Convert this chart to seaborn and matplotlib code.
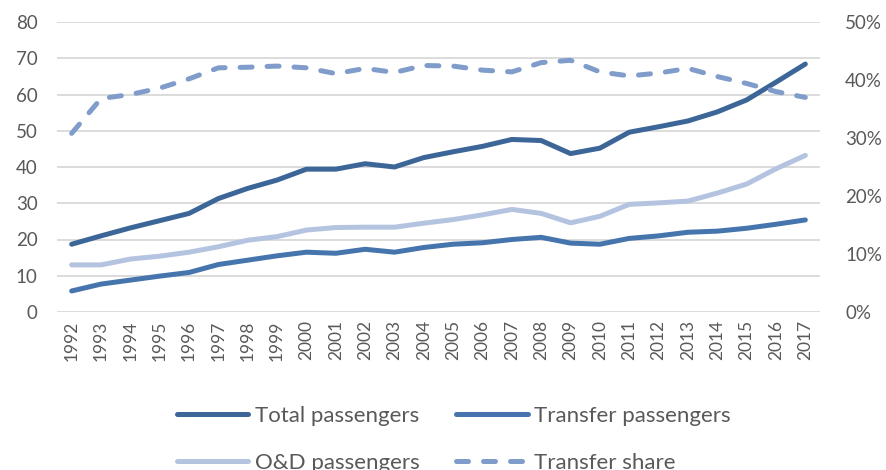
import matplotlib
matplotlib.use("Agg")
import matplotlib.pyplot as plt
import pandas as pd
import seaborn as sns
from matplotlib.ticker import FuncFormatter

years = list(range(1992, 2018))
total = [18.7, 21.0, 23.2, 25.2, 27.2, 31.3, 34.1, 36.4, 39.4, 39.4, 40.9, 40.0,
         42.6, 44.2, 45.7, 47.6, 47.3, 43.7, 45.2, 49.6, 51.1, 52.7, 55.2, 58.5,
         63.4, 68.4]
transfer = [5.8, 7.7, 8.8, 9.9, 10.9, 13.1, 14.3, 15.5, 16.5, 16.2, 17.3, 16.5,
            17.8, 18.7, 19.1, 20.0, 20.6, 19.0, 18.7, 20.3, 21.0, 22.0, 22.3, 23.1,
            24.2, 25.4]
od = [13.0, 13.0, 14.6, 15.4, 16.5, 18.0, 19.8, 20.8, 22.6, 23.3, 23.4, 23.4,
      24.5, 25.5, 26.8, 28.3, 27.2, 24.6, 26.4, 29.7, 30.1, 30.6, 32.8, 35.3,
      39.5, 43.2]
share = [30.8, 36.8, 37.5, 38.6, 40.2, 42.1, 42.2, 42.4, 42.1, 41.1, 42.0, 41.3,
         42.5, 42.4, 41.7, 41.4, 43.0, 43.4, 41.4, 40.7, 41.2, 42.0, 40.6, 39.4,
         38.0, 37.0]

df = pd.DataFrame({"year": [str(y) for y in years], "total": total,
                   "transfer": transfer, "od": od, "share": share})

sns.set_theme(style="white")
plt.rcParams["font.family"] = ["Lato", "DejaVu Sans"]

c_total = "#3D6698"
c_transfer = "#4675AE"
c_od = "#B4C4E0"
c_share = "#7F9CCA"
grey = "#595959"

fig = plt.figure(figsize=(8.86, 4.70), dpi=100)
ax = fig.add_axes([57 / 886, 1 - 312 / 470, (820 - 57) / 886, (312 - 22) / 470])
ax2 = ax.twinx()

lw = 3.6
sns.lineplot(data=df, x="year", y="total", ax=ax, color=c_total, lw=lw,
             solid_capstyle="round", label="Total passengers", legend=False, sort=False)
sns.lineplot(data=df, x="year", y="transfer", ax=ax, color=c_transfer, lw=lw,
             solid_capstyle="round", label="Transfer passengers", legend=False, sort=False)
sns.lineplot(data=df, x="year", y="od", ax=ax, color=c_od, lw=lw,
             solid_capstyle="round", label="O&D passengers", legend=False, sort=False)
sns.lineplot(data=df, x="year", y="share", ax=ax2, color=c_share, lw=lw,
             dashes=False, label="Transfer share", legend=False, sort=False)
ax2.lines[0].set_dashes([2.4, 3.0])
ax2.lines[0].set_dash_capstyle("round")

ax.set_ylim(0, 80)
ax.set_yticks(range(0, 81, 10))
ax2.set_ylim(0, 50)
ax2.set_yticks(range(0, 51, 10))
ax2.yaxis.set_major_formatter(FuncFormatter(lambda v, p: f"{v:.0f}%"))
ax.set_xlim(-0.5, len(years) - 0.5)

ax.grid(axis="y", color="#D9D9D9", lw=1.3)
ax.set_axisbelow(True)
for a in (ax, ax2):
    for s in a.spines.values():
        s.set_visible(False)
    a.set_xlabel("")
    a.set_ylabel("")
    a.tick_params(length=0, colors=grey, labelsize=13.5)
ax.tick_params(axis="x", rotation=90, labelsize=12.5, pad=6)
ax.tick_params(axis="y", pad=14)
ax2.tick_params(axis="y", pad=18)

h1, l1 = ax.get_legend_handles_labels()
h2, l2 = ax2.get_legend_handles_labels()
# legend fills column by column: put items so rows read Total/Transfer, O&D/Share
handles = [h1[0], h1[2], h1[1], h2[0]]
labels = [l1[0], l1[2], l1[1], l2[0]]
leg = fig.legend(handles, labels, ncol=2, loc="upper center",
                 bbox_to_anchor=(454 / 886, 1 - 386 / 470), frameon=False,
                 fontsize=16, handlelength=3.2, handletextpad=0.3,
                 columnspacing=1.65, labelspacing=1.2, labelcolor=grey)

fig.savefig("out.png", dpi=100)
